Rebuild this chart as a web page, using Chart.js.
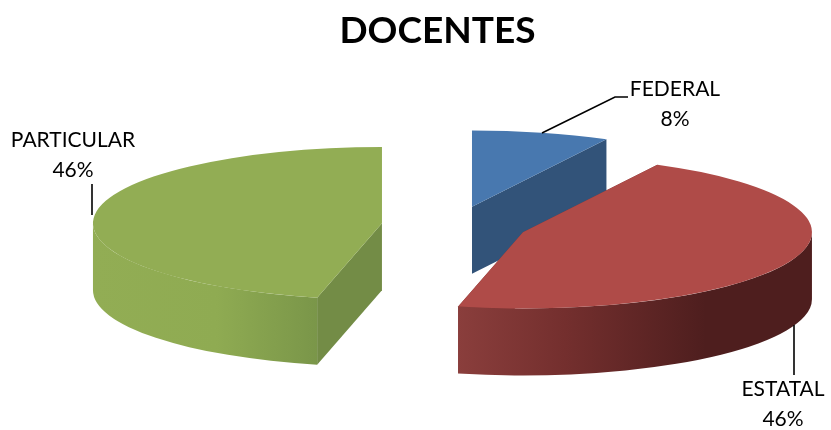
<!DOCTYPE html>
<html>
<head>
<meta charset="utf-8">
<title>DOCENTES</title>
<script src="https://cdn.jsdelivr.net/npm/chart.js@4"></script>
<style>
html, body { margin: 0; padding: 0; background: #fff; }
#wrap { width: 831px; height: 430px; }
</style>
</head>
<body>
<div id="wrap"><canvas id="chart1" width="831" height="430"></canvas></div>
<script>
const categories = ['FEDERAL', 'ESTATAL', 'PARTICULAR'];
const values = [7.7, 45.9, 46.4];
const percentLabels = ['8%', '46%', '46%'];

const topColors = ['#4878AF', '#AF4B48', '#92AD54'];
const edgeColors = ['#325379', '#7A3634', '#738C46'];
const wallStops = [
    [[0, '#325379'], [1, '#325379']],
    [[0, '#8A3E3C'], [0.3, '#742F2E'], [0.7, '#4E1E1E'], [1, '#4E1E1E']],
    [[0, '#92AD54'], [0.55, '#8FAB52'], [1, '#7A9649']]
];

// pie is drawn round, then squashed to this ratio
const squash = 0.264;
const pieCenterX = 454.5;
const pieCenterY = 225.5;
const explode = 73;
const depth = 67 / squash;

const labelSpots = [
    { x: 675, y: 89, line: [[542, 133], [615, 97], [628, 97]] },
    { x: 783, y: 389, line: [[794, 325], [794, 375]] },
    { x: 73, y: 140, line: [[92, 215], [92, 184]] }
];

function sliceCenter(arc) {
    const mid = (arc.startAngle + arc.endAngle) / 2;
    return { x: arc.x + Math.cos(mid) * explode, y: arc.y + Math.sin(mid) * explode };
}

function wallGradient(ctx, i, x0, x1) {
    const g = ctx.createLinearGradient(x0, 0, x1, 0);
    wallStops[i].forEach(function (s) { g.addColorStop(s[0], s[1]); });
    return g;
}

function drawEdgeWall(ctx, c, r, angle, color) {
    ctx.fillStyle = color;
    ctx.beginPath();
    ctx.moveTo(c.x, c.y);
    ctx.lineTo(c.x + Math.cos(angle) * r, c.y + Math.sin(angle) * r);
    ctx.lineTo(c.x + Math.cos(angle) * r, c.y + Math.sin(angle) * r + depth);
    ctx.lineTo(c.x, c.y + depth);
    ctx.closePath();
    ctx.fill();
}

function drawOuterWall(ctx, c, r, start, end, i) {
    // only the part of the rim that faces the viewer
    const a0 = Math.max(start, 0);
    const a1 = Math.min(end, Math.PI);
    if (a1 <= a0) return;
    const x0 = c.x + Math.cos(a1) * r;
    const x1 = c.x + Math.cos(a0) * r;
    ctx.fillStyle = wallGradient(ctx, i, x0, x1);
    ctx.beginPath();
    ctx.arc(c.x, c.y, r, a0, a1);
    ctx.arc(c.x, c.y + depth, r, a1, a0, true);
    ctx.closePath();
    ctx.fill();
}

const pie3d = {
    id: 'pie3d',
    beforeDatasetDraw(chart, args) {
        const ctx = chart.ctx;
        const arcs = args.meta.data;
        ctx.save();
        ctx.translate(pieCenterX, pieCenterY);
        ctx.scale(1, squash);
        ctx.translate(-arcs[0].x, -arcs[0].y);

        arcs.forEach(function (arc, i) {
            const c = sliceCenter(arc);
            drawEdgeWall(ctx, c, arc.outerRadius, arc.startAngle, edgeColors[i]);
            drawEdgeWall(ctx, c, arc.outerRadius, arc.endAngle, edgeColors[i]);
            drawOuterWall(ctx, c, arc.outerRadius, arc.startAngle, arc.endAngle, i);
        });
        arcs.forEach(function (arc) {
            const mid = (arc.startAngle + arc.endAngle) / 2;
            ctx.save();
            ctx.translate(Math.cos(mid) * explode, Math.sin(mid) * explode);
            arc.draw(ctx);
            ctx.restore();
        });
        ctx.restore();
        return false;
    },
    afterDraw(chart) {
        const ctx = chart.ctx;
        ctx.save();
        ctx.fillStyle = '#000';
        ctx.strokeStyle = '#000';
        ctx.lineWidth = 1.6;
        ctx.textAlign = 'center';
        ctx.textBaseline = 'middle';
        ctx.font = '21px Lato';
        categories.forEach(function (name, i) {
            const spot = labelSpots[i];
            ctx.fillText(name, spot.x, spot.y);
            ctx.fillText(percentLabels[i], spot.x, spot.y + 30);
            ctx.beginPath();
            spot.line.forEach(function (p, j) {
                if (j == 0) ctx.moveTo(p[0], p[1]);
                else ctx.lineTo(p[0], p[1]);
            });
            ctx.stroke();
        });
        ctx.restore();
    }
};

new Chart(document.getElementById('chart1').getContext('2d'), {
    type: 'pie',
    plugins: [pie3d],
    data: {
        labels: categories,
        datasets: [{
            data: values,
            backgroundColor: topColors,
            borderWidth: 0,
            hoverOffset: 0,
            radius: 289,
            clip: false
        }]
    },
    options: {
        responsive: false,
        animation: false,
        events: [],
        layout: { padding: { left: 44 } },
        plugins: {
            legend: { display: false },
            tooltip: { enabled: false },
            title: {
                display: true,
                text: 'DOCENTES',
                color: '#000',
                font: { family: 'Lato', size: 37, weight: 'bold' },
                padding: { top: 9, bottom: 10 }
            }
        }
    }
});
</script>
</body>
</html>
